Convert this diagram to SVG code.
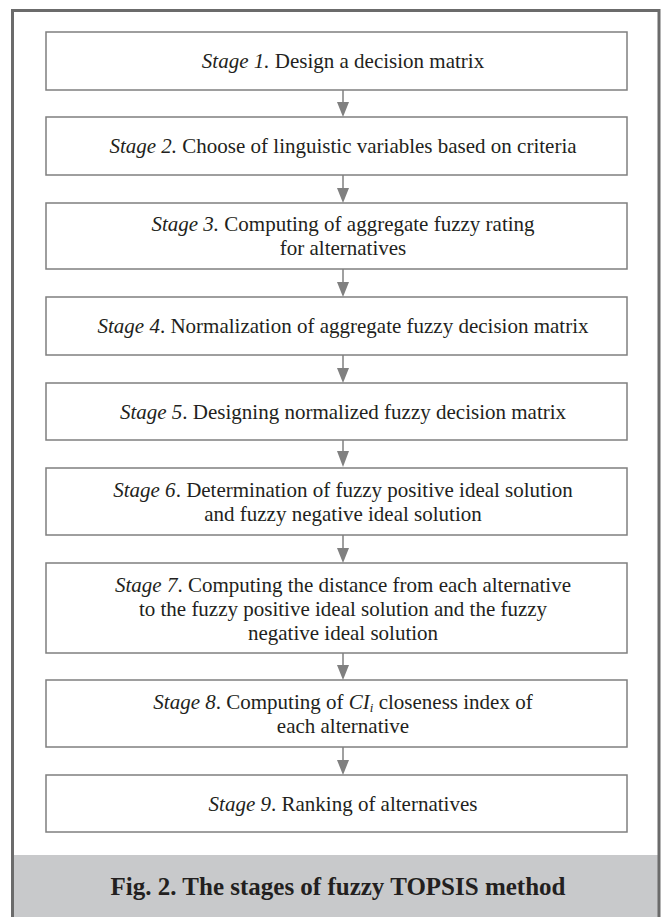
<svg xmlns="http://www.w3.org/2000/svg" width="667" height="917" viewBox="0 0 667 917">
<style>
.box{fill:#fff;stroke:#7f7f7f;stroke-width:1.5}
.t{font-family:"Liberation Serif","Times New Roman",serif;font-size:21px;fill:#231f20;text-anchor:middle}
.i{font-style:italic}
.con line{stroke:#808080;stroke-width:1.5}
.con polygon{fill:#808080}
</style>
<rect x="0" y="0" width="667" height="917" fill="#fff"/>
<rect x="13" y="855" width="646" height="62" fill="#c8c9cb"/>
<path d="M12.5 917 V10.5 H659 V917" fill="none" stroke="#6b6b6b" stroke-width="3"/>
<g id="connectors" class="con">
<line x1="343" y1="90" x2="343" y2="103"/><polygon points="337,102 349,102 343,117"/>
<line x1="343" y1="175" x2="343" y2="189"/><polygon points="337,188 349,188 343,203"/>
<line x1="343" y1="269" x2="343" y2="283"/><polygon points="337,282 349,282 343,297"/>
<line x1="343" y1="355" x2="343" y2="369"/><polygon points="337,368 349,368 343,383"/>
<line x1="343" y1="440" x2="343" y2="452"/><polygon points="337,451 349,451 343,467"/>
<line x1="343" y1="535" x2="343" y2="549"/><polygon points="337,548 349,548 343,563"/>
<line x1="343" y1="653" x2="343" y2="666"/><polygon points="337,665 349,665 343,680"/>
<line x1="343" y1="747" x2="343" y2="761"/><polygon points="337,760 349,760 343,775"/>
</g>
<g id="stage1"><rect class="box" x="46" y="32" width="581" height="58"/>
<text class="t" x="343" y="68"><tspan class="i">Stage 1.</tspan> Design a decision matrix</text></g>
<g id="stage2"><rect class="box" x="46" y="117" width="581" height="58"/>
<text class="t" x="343" y="153"><tspan class="i">Stage 2.</tspan> Choose of linguistic variables based on criteria</text></g>
<g id="stage3"><rect class="box" x="46" y="203" width="581" height="66"/>
<text class="t" x="343" y="231"><tspan class="i">Stage 3.</tspan> Computing of aggregate fuzzy rating</text>
<text class="t" x="343" y="255">for alternatives</text></g>
<g id="stage4"><rect class="box" x="46" y="297" width="581" height="58"/>
<text class="t" x="343" y="333"><tspan class="i">Stage 4</tspan>. Normalization of aggregate fuzzy decision matrix</text></g>
<g id="stage5"><rect class="box" x="46" y="383" width="581" height="57"/>
<text class="t" x="343" y="419"><tspan class="i">Stage 5</tspan>. Designing normalized fuzzy decision matrix</text></g>
<g id="stage6"><rect class="box" x="46" y="468" width="581" height="67"/>
<text class="t" x="343" y="497"><tspan class="i">Stage 6</tspan>. Determination of fuzzy positive ideal solution</text>
<text class="t" x="343" y="521">and fuzzy negative ideal solution</text></g>
<g id="stage7"><rect class="box" x="46" y="563" width="581" height="90"/>
<text class="t" x="343" y="592"><tspan class="i">Stage 7</tspan>. Computing the distance from each alternative</text>
<text class="t" x="343" y="616">to the fuzzy positive ideal solution and the fuzzy</text>
<text class="t" x="343" y="640">negative ideal solution</text></g>
<g id="stage8"><rect class="box" x="46" y="680" width="581" height="67"/>
<text class="t" x="343" y="709"><tspan class="i">Stage 8</tspan>. Computing of <tspan class="i">CI<tspan font-size="13" dy="3">i</tspan></tspan><tspan dy="-3"> closeness index of</tspan></text>
<text class="t" x="343" y="733">each alternative</text></g>
<g id="stage9"><rect class="box" x="46" y="775" width="581" height="57"/>
<text class="t" x="343" y="811"><tspan class="i">Stage 9</tspan>. Ranking of alternatives</text></g>
<text x="338" y="895" text-anchor="middle" font-family="Liberation Serif, serif" font-weight="bold" font-size="25" fill="#231f20">Fig. 2. The stages of fuzzy TOPSIS method</text>
</svg>
